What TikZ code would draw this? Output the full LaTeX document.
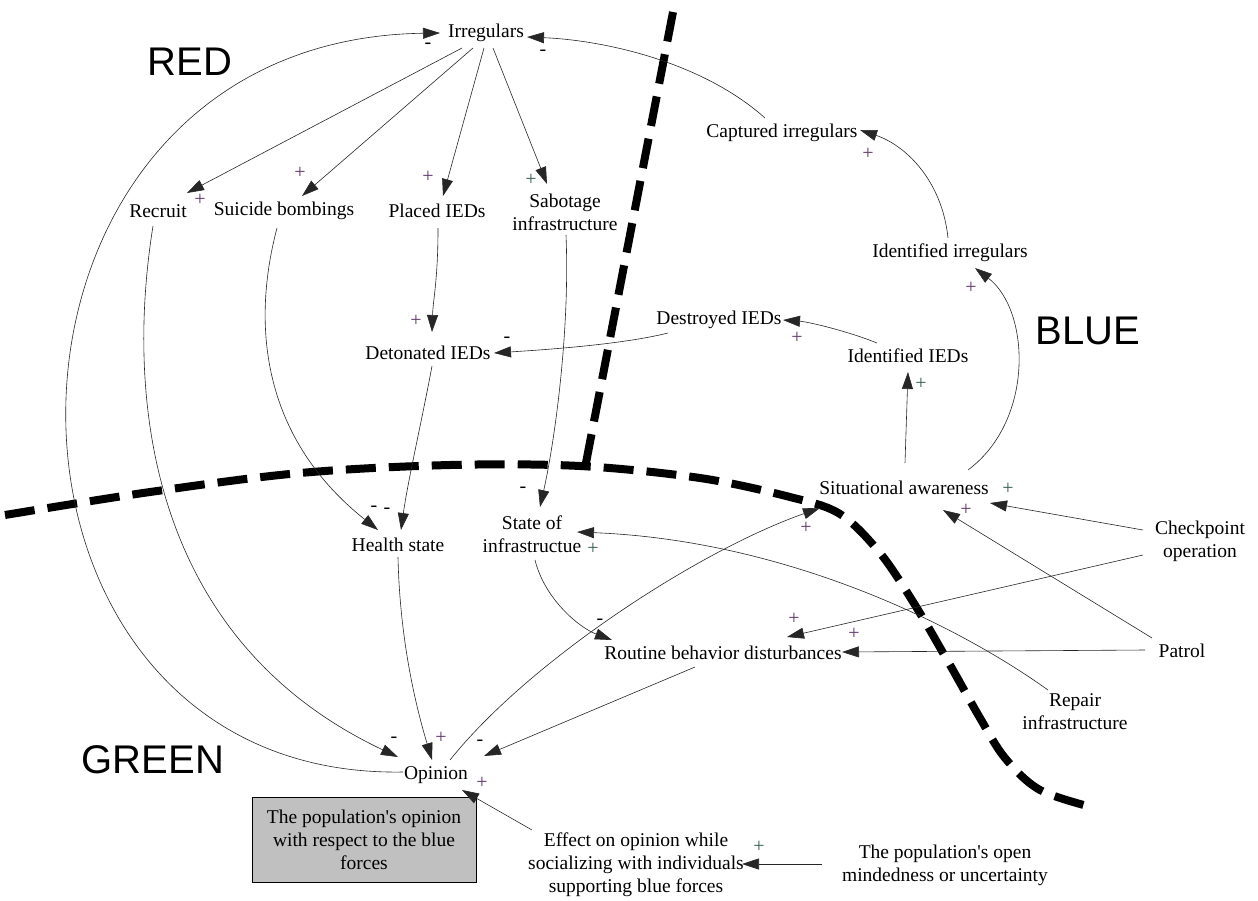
\documentclass[tikz,border=0pt]{standalone}
\usepackage{fontspec}
\setmainfont{Liberation Serif}
\newfontfamily\labfont{Liberation Sans}
\usetikzlibrary{arrows.meta,calc}
\definecolor{plusA}{RGB}{95,55,105}
\definecolor{plusB}{RGB}{55,95,80}
\definecolor{boxgray}{RGB}{192,192,192}
\begin{document}
\begin{tikzpicture}[x=1pt,y=-1pt,
  var/.style={font=\fontsize{19.5}{23}\selectfont, align=center, inner sep=0pt},
  link/.style={line width=0.6pt, draw=black!85, -{Triangle[length=17pt,width=11pt]}},
  pls/.style={font=\fontsize{20}{20}\selectfont, text=plusA, inner sep=0pt},
  plsg/.style={font=\fontsize{20}{20}\selectfont, text=plusB, inner sep=0pt},
  mns/.style={font=\fontsize{20}{20}\selectfont, text=black, inner sep=0pt},
  region/.style={font=\labfont\fontsize{40}{40}\selectfont, inner sep=0pt},
  border/.style={line width=8pt, dash pattern=on 30pt off 13pt},
  note/.style={draw=black, line width=0.6pt, fill=boxgray, minimum width=224pt, minimum height=85pt, align=center, font=\fontsize{19.5}{23}\selectfont}
]
\useasboundingbox (0,0) rectangle (1258,900);

% region borders
\draw[border] (673,12) -- (585,468);
\draw[border] plot[smooth, tension=0.55] coordinates {(5,515) (150,492) (300,473) (450,465) (580,466) (700,478) (790,497) (840,514) (880,553) (915,605) (950,665) (980,718) (1005,758) (1040,790) (1095,808)};

% region labels
\node[region] (red) at (190,62) {RED};
\node[region] (blue) at (1088,331) {BLUE};
\node[region] (green) at (153,760) {GREEN};

% variables
\node[var] (irr) at (486,33) {Irregulars};
\node[var] (rec) at (158,211) {Recruit};
\node[var] (sui) at (284,211) {Suicide bombings};
\node[var] (pla) at (437,211) {Placed IEDs};
\node[var] (sab) at (565,212) {Sabotage\\infrastructure};
\node[var] (det) at (428,353) {Detonated IEDs};
\node[var] (des) at (719,320) {Destroyed IEDs};
\node[var] (idi) at (908,356) {Identified IEDs};
\node[var] (cap) at (782,133) {Captured irregulars};
\node[var] (idr) at (950,253) {Identified irregulars};
\node[var] (sit) at (904,488) {Situational awareness};
\node[var] (hea) at (398,545) {Health state};
\node[var] (sta) at (532,534) {State of\\infrastructue};
\node[var] (rou) at (723,653) {Routine behavior disturbances};
\node[var] (chk) at (1200,541) {Checkpoint\\operation};
\node[var] (pat) at (1182,651) {Patrol};
\node[var] (rep) at (1075,712) {Repair\\infrastructure};
\node[var] (opi) at (436,775) {Opinion};
\node[var] (eff) at (636,865) {Effect on opinion while\\socializing with individuals\\supporting blue forces};
\node[var] (opn) at (945,865) {The population\textquotesingle s open\\mindedness or uncertainty};
\node[note] (box) at (364,840) {The population\textquotesingle s opinion\\with respect to the blue\\forces};

% links
\draw[link] ($(irr)+(-24,15)$) -- ($(rec)+(29,-18)$);
\draw[link] ($(irr)+(-13,15)$) -- ($(sui)+(18,-15)$);
\draw[link] ($(irr)+(-2,15)$) -- ($(pla)+(6,-15)$);
\draw[link] ($(irr)+(7,15)$) -- ($(sab)+(-18,-28)$);
\draw[link] ($(opi)+(-33,-3)$) .. controls (-50,780) and (-50,40) .. ($(irr)+(-46,0)$);
\draw[link] ($(rec)+(-5,15)$) .. controls (125,400) and (150,640) .. ($(opi)+(-38,-18)$);
\draw[link] ($(sui)+(-7,17)$) .. controls (250,330) and (265,440) .. ($(hea)+(-20,-15)$);
\draw[link] ($(pla)+(1,17)$) .. controls (438,280) and (433,300) .. ($(det)+(4,-21)$);
\draw[link] ($(det)+(4,13)$) .. controls (422,420) and (408,480) .. ($(hea)+(3,-15)$);
\draw[link] ($(des)+(-51,13)$) .. controls (620,345) and (540,350) .. ($(det)+(66,0)$);
\draw[link] ($(idi)+(-31,-13)$) .. controls (850,332) and (810,322) .. ($(des)+(64,0)$);
\draw[link] ($(sit)+(1,-25)$) -- ($(idi)+(0,16)$);
\draw[link] ($(sit)+(64,-18)$) .. controls (1035,420) and (1030,310) .. ($(idr)+(25,15)$);
\draw[link] ($(idr)+(-2,-15)$) .. controls (942,180) and (905,145) .. ($(cap)+(78,-3)$);
\draw[link] ($(cap)+(-17,-15)$) .. controls (700,60) and (600,40) .. ($(irr)+(41,4)$);
\draw[link] ($(sab)+(1,23)$) .. controls (570,330) and (555,440) .. ($(sta)+(8,-27)$);
\draw[link] ($(sta)+(3,26)$) .. controls (545,600) and (580,628) .. ($(rou)+(-111,-13)$);
\draw[link] ($(rep)+(-27,-22)$) .. controls (950,620) and (780,540) .. ($(sta)+(45,-2)$);
\draw[link] ($(chk)+(-57,-11)$) -- ($(sit)+(86,15)$);
\draw[link] ($(chk)+(-57,14)$) -- ($(rou)+(64,-16)$);
\draw[link] ($(pat)+(-30,-13)$) -- ($(sit)+(39,22)$);
\draw[link] ($(pat)+(-37,-1)$) -- ($(rou)+(119,-1)$);
\draw[link] ($(rou)+(-28,14)$) -- ($(opi)+(48,-19)$);
\draw[link] ($(opi)+(14,-15)$) .. controls (530,660) and (700,550) .. ($(sit)+(-84,20)$);
\draw[link] ($(eff)+(-104,-35)$) -- ($(opi)+(26,15)$);
\draw[link] ($(opn)+(-123,-1)$) -- ($(eff)+(106,-1)$);
\draw[link] ($(hea)+(0,12)$) .. controls (400,650) and (420,720) .. ($(opi)+(-4,-15)$);

% polarity signs
\node[mns] (s1) at (428,46) {-};
\node[mns] (s2) at (543,53) {-};
\node[pls] (s3) at (200,200) {+};
\node[pls] (s4) at (300,173) {+};
\node[pls] (s5) at (428,177) {+};
\node[plsg] (s6) at (531,180) {+};
\node[pls] (s7) at (868,154) {+};
\node[pls] (s8) at (971,288) {+};
\node[pls] (s9) at (797,338) {+};
\node[plsg] (s10) at (921,384) {+};
\node[pls] (s11) at (416,321) {+};
\node[mns] (s12) at (507,340) {-};
\node[mns] (s13) at (374,509) {-};
\node[mns] (s14) at (387,511) {-};
\node[mns] (s15) at (523,490) {-};
\node[plsg] (s16) at (593,549) {+};
\node[plsg] (s17) at (1008,489) {+};
\node[pls] (s18) at (966,510) {+};
\node[pls] (s19) at (806,528) {+};
\node[pls] (s20) at (794,619) {+};
\node[pls] (s21) at (854,634) {+};
\node[mns] (s22) at (600,622) {-};
\node[mns] (s23) at (394,740) {-};
\node[pls] (s24) at (441,738) {+};
\node[mns] (s25) at (480,743) {-};
\node[pls] (s26) at (482,783) {+};
\node[plsg] (s27) at (759,847) {+};
\end{tikzpicture}
\end{document}
